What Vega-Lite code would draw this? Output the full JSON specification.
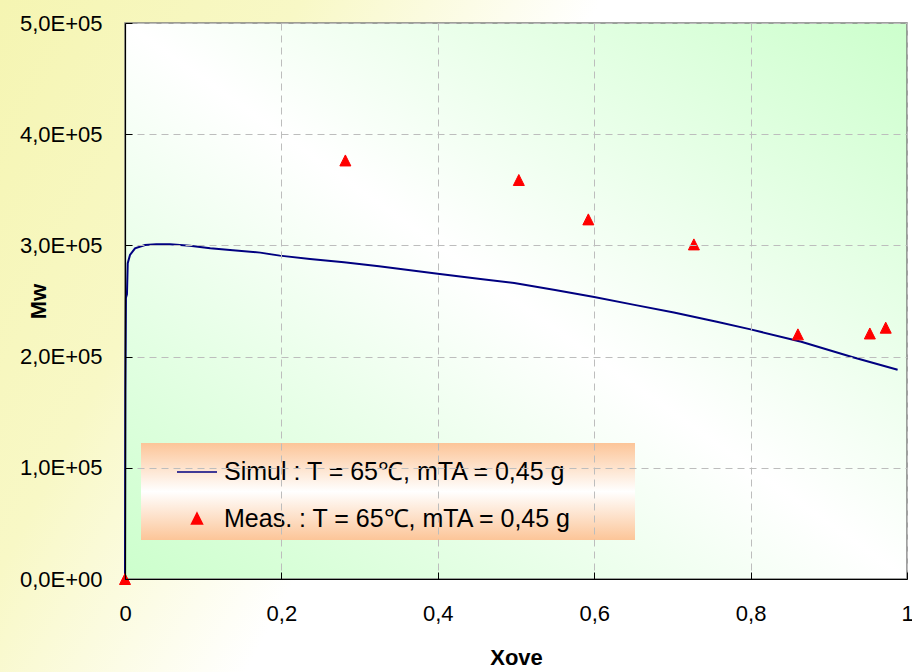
{
  "$schema": "https://vega.github.io/schema/vega-lite/v6.json",
  "width": 782,
  "height": 556,
  "autosize": {"type": "none"},
  "padding": {"left": 125, "top": 23, "right": 5, "bottom": 93},
  "background": "#ffffff",
  "config": {
    "font": "Liberation Sans",
    "view": {"stroke": null},
    "axis": {
      "labelFont": "Liberation Sans",
      "titleFont": "Liberation Sans",
      "labelFontSize": 22,
      "titleFontSize": 22,
      "titleFontWeight": "bold",
      "labelColor": "#000000",
      "titleColor": "#000000",
      "domainColor": "#000000",
      "domainWidth": 1.2,
      "tickColor": "#000000",
      "tickWidth": 1,
      "tickSize": -7,
      "labelFlush": false,
      "grid": true,
      "gridColor": "#bdbdbd",
      "gridDash": [7, 5],
      "gridWidth": 1
    }
  },
  "datasets": {
    "simul": [
      {"series": "Simul : T = 65℃, mTA = 0,45 g", "xove": 0, "mw": 0},
      {"series": "Simul : T = 65℃, mTA = 0,45 g", "xove": 0.0005, "mw": 170000},
      {"series": "Simul : T = 65℃, mTA = 0,45 g", "xove": 0.0012, "mw": 253000},
      {"series": "Simul : T = 65℃, mTA = 0,45 g", "xove": 0.0025, "mw": 256000},
      {"series": "Simul : T = 65℃, mTA = 0,45 g", "xove": 0.0035, "mw": 284000},
      {"series": "Simul : T = 65℃, mTA = 0,45 g", "xove": 0.0064, "mw": 291400},
      {"series": "Simul : T = 65℃, mTA = 0,45 g", "xove": 0.0128, "mw": 297400},
      {"series": "Simul : T = 65℃, mTA = 0,45 g", "xove": 0.0256, "mw": 300400},
      {"series": "Simul : T = 65℃, mTA = 0,45 g", "xove": 0.04, "mw": 301000},
      {"series": "Simul : T = 65℃, mTA = 0,45 g", "xove": 0.0575, "mw": 301000},
      {"series": "Simul : T = 65℃, mTA = 0,45 g", "xove": 0.083, "mw": 299700},
      {"series": "Simul : T = 65℃, mTA = 0,45 g", "xove": 0.109, "mw": 297400},
      {"series": "Simul : T = 65℃, mTA = 0,45 g", "xove": 0.1343, "mw": 295900},
      {"series": "Simul : T = 65℃, mTA = 0,45 g", "xove": 0.173, "mw": 293500},
      {"series": "Simul : T = 65℃, mTA = 0,45 g", "xove": 0.198, "mw": 290800},
      {"series": "Simul : T = 65℃, mTA = 0,45 g", "xove": 0.2366, "mw": 287800},
      {"series": "Simul : T = 65℃, mTA = 0,45 g", "xove": 0.28, "mw": 284800},
      {"series": "Simul : T = 65℃, mTA = 0,45 g", "xove": 0.3248, "mw": 281300},
      {"series": "Simul : T = 65℃, mTA = 0,45 g", "xove": 0.4, "mw": 274600},
      {"series": "Simul : T = 65℃, mTA = 0,45 g", "xove": 0.4545, "mw": 269800},
      {"series": "Simul : T = 65℃, mTA = 0,45 g", "xove": 0.4977, "mw": 266200},
      {"series": "Simul : T = 65℃, mTA = 0,45 g", "xove": 0.55, "mw": 259800},
      {"series": "Simul : T = 65℃, mTA = 0,45 g", "xove": 0.6, "mw": 253500},
      {"series": "Simul : T = 65℃, mTA = 0,45 g", "xove": 0.6514, "mw": 246500},
      {"series": "Simul : T = 65℃, mTA = 0,45 g", "xove": 0.7019, "mw": 239600},
      {"series": "Simul : T = 65℃, mTA = 0,45 g", "xove": 0.7568, "mw": 231400},
      {"series": "Simul : T = 65℃, mTA = 0,45 g", "xove": 0.8, "mw": 224500},
      {"series": "Simul : T = 65℃, mTA = 0,45 g", "xove": 0.8648, "mw": 213300},
      {"series": "Simul : T = 65℃, mTA = 0,45 g", "xove": 0.9297, "mw": 199700},
      {"series": "Simul : T = 65℃, mTA = 0,45 g", "xove": 0.988, "mw": 188200}
    ],
    "meas": [
      {"series": "Meas. : T = 65℃, mTA = 0,45 g", "xove": 0, "mw": 0},
      {"series": "Meas. : T = 65℃, mTA = 0,45 g", "xove": 0.2818, "mw": 376400},
      {"series": "Meas. : T = 65℃, mTA = 0,45 g", "xove": 0.5036, "mw": 358800},
      {"series": "Meas. : T = 65℃, mTA = 0,45 g", "xove": 0.5925, "mw": 323400},
      {"series": "Meas. : T = 65℃, mTA = 0,45 g", "xove": 0.7275, "mw": 300900},
      {"series": "Meas. : T = 65℃, mTA = 0,45 g", "xove": 0.8605, "mw": 220000},
      {"series": "Meas. : T = 65℃, mTA = 0,45 g", "xove": 0.9525, "mw": 220800},
      {"series": "Meas. : T = 65℃, mTA = 0,45 g", "xove": 0.9728, "mw": 226000}
    ]
  },
  "layer": [
    {
      "description": "Page background: pale yellow fading to white",
      "data": {"values": [{}]},
      "mark": {
        "type": "rect",
        "clip": false,
        "fill": {
          "gradient": "linear",
          "x1": 0, "y1": 0, "x2": 0.573, "y2": 0.223,
          "stops": [
            {"offset": 0, "color": "#f5f5b2"},
            {"offset": 0.5, "color": "#f8f8c6"},
            {"offset": 1, "color": "#ffffff"}
          ]
        }
      },
      "encoding": {
        "x": {"datum": -0.1599, "type": "quantitative", "title": "Xove", "scale": {"domain": [0, 1], "nice": false, "zero": false}},
        "x2": {"datum": 1.0064},
        "y": {"datum": 520684, "type": "quantitative", "title": "Mw", "scale": {"domain": [0, 500000], "nice": false}},
        "y2": {"datum": -83633}
      }
    },
    {
      "description": "Plot area: diagonal green-white-green gradient with grey frame",
      "data": {"values": [{}]},
      "mark": {
        "type": "rect",
        "stroke": "#808080",
        "strokeWidth": 1.5,
        "fill": {
          "gradient": "linear",
          "x1": 1, "y1": 0, "x2": 0, "y2": 1,
          "stops": [
            {"offset": 0, "color": "#ccffcc"},
            {"offset": 0.5, "color": "#ffffff"},
            {"offset": 1, "color": "#ccffcc"}
          ]
        }
      },
      "encoding": {
        "x": {"datum": 0, "type": "quantitative", "title": "Xove"},
        "x2": {"datum": 1},
        "y": {"datum": 0, "type": "quantitative", "title": "Mw"},
        "y2": {"datum": 500000}
      }
    },
    {
      "data": {"name": "simul"},
      "mark": {"type": "line", "strokeWidth": 2},
      "encoding": {
        "x": {
          "field": "xove", "type": "quantitative", "title": "Xove",
          "axis": {
            "zindex": 1,
            "values": [0, 0.2, 0.4, 0.6, 0.8, 1],
            "labelExpr": "replace(format(datum.value, '~g'), '.', ',')",
            "labelPadding": 31,
            "titleY": 78,
            "titleBaseline": "middle",
            "encode": {
              "labels": {
                "update": {
                  "align": {"signal": "datum.value === 1 ? 'right' : 'center'"},
                  "dx": {"signal": "datum.value === 1 ? 3 : 0"}
                }
              }
            }
          }
        },
        "y": {
          "field": "mw", "type": "quantitative", "title": "Mw",
          "axis": {
            "zindex": 1,
            "values": [0, 100000, 200000, 300000, 400000, 500000],
            "labelExpr": "datum.value === 0 ? '0,0E+00' : replace(format(datum.value / 100000, '.1f'), '.', ',') + 'E+05'",
            "labelPadding": 30,
            "titleX": -87,
            "titleY": 278,
            "titleAngle": -90,
            "titleAlign": "center",
            "titleBaseline": "middle"
          }
        },
        "color": {
          "field": "series", "type": "nominal",
          "scale": {
            "domain": ["Simul : T = 65℃, mTA = 0,45 g", "Meas. : T = 65℃, mTA = 0,45 g"],
            "range": ["#000080", "#ff0000"]
          },
          "legend": {
            "orient": "none",
            "legendX": 16,
            "legendY": 420,
            "title": null,
            "padding": 8,
            "rowPadding": 21,
            "symbolOffset": 27,
            "symbolStrokeWidth": 1.5,
            "labelOffset": 6,
            "labelFont": "Liberation Sans",
            "labelFontSize": 25,
            "labelColor": "#000000",
            "labelLimit": 700,
            "labelExpr": "datum.label + '\u2800\u2800\u2800'",
            "encode": {
              "legend": {
                "update": {
                  "fill": {
                    "value": {
                      "gradient": "linear",
                      "x1": 0, "y1": 0, "x2": 0, "y2": 1,
                      "stops": [
                        {"offset": 0, "color": "#fcc598"},
                        {"offset": 0.5, "color": "#ffffff"},
                        {"offset": 1, "color": "#fcc598"}
                      ]
                    }
                  }
                }
              }
            }
          }
        }
      }
    },
    {
      "data": {"name": "meas"},
      "mark": {"type": "point", "filled": true, "strokeWidth": 1, "opacity": 1},
      "encoding": {
        "x": {"field": "xove", "type": "quantitative", "title": "Xove"},
        "y": {"field": "mw", "type": "quantitative", "title": "Mw"},
        "color": {"field": "series", "type": "nominal"},
        "stroke": {
          "field": "series", "type": "nominal",
          "scale": {
            "domain": ["Simul : T = 65℃, mTA = 0,45 g", "Meas. : T = 65℃, mTA = 0,45 g"],
            "range": ["#000080", "#ff0000"]
          }
        },
        "shape": {
          "field": "series", "type": "nominal",
          "scale": {
            "domain": ["Simul : T = 65℃, mTA = 0,45 g", "Meas. : T = 65℃, mTA = 0,45 g"],
            "range": ["stroke", "M0,-1L1,1L-1,1Z"]
          }
        },
        "size": {
          "field": "series", "type": "nominal",
          "scale": {
            "type": "ordinal",
            "domain": ["Simul : T = 65℃, mTA = 0,45 g", "Meas. : T = 65℃, mTA = 0,45 g"],
            "range": [1600, 121]
          }
        }
      }
    }
  ]
}
